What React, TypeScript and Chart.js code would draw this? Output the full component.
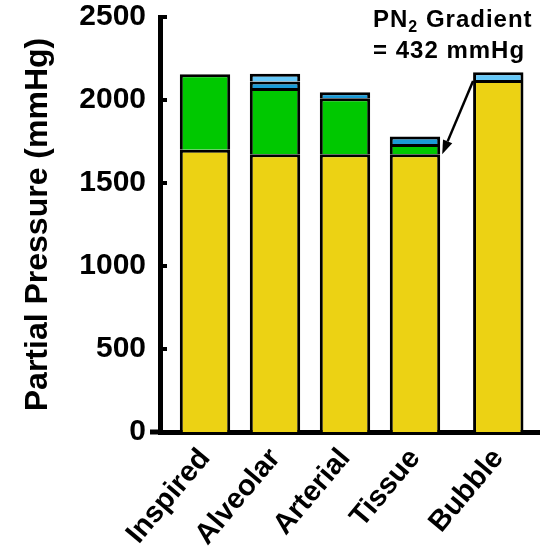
import React, { useEffect, useRef } from 'react';
import { Chart, registerables } from 'chart.js';

Chart.register(...registerables);

const categories = ['Inspired', 'Alveolar', 'Arterial', 'Tissue', 'Bubble'];
const nitrogen = [1700, 1673, 1673, 1673, 2120];
const oxygen = [455, 400, 337, 62, null];
const carbonDioxide = [null, 38, 36, 45, null];
const waterVapor = [null, 47, null, null, 47];
const yTickValues = [0, 500, 1000, 1500, 2000, 2500];
const yTitle = 'Partial Pressure (mmHg)';
const noteMain = 'PN';
const noteSub = '2';
const noteRest = ' Gradient';
const noteLine2 = '= 432 mmHg';

const FONT = '"Liberation Sans", Arial, Helvetica, sans-serif';
const COLORS = { n2: '#ECD214', o2: '#00C800', co2: '#1A9BD7', h2o: '#66C8F8' };

// horizontal slot of each column (the last column stands slightly apart)
const slotOf = (i: number) => i + (i === categories.length - 1 ? 0.19 : 0);
const toPoints = (arr: (number | null)[]) => arr.map((v, i) => ({ x: slotOf(i), y: v }));

const overlayPlugin = {
  id: 'overlay',
  afterDraw(chart: any) {
    const ctx: CanvasRenderingContext2D = chart.ctx;
    const { chartArea } = chart;
    const ys = chart.scales.y;
    ctx.save();
    ctx.fillStyle = '#000';
    ctx.strokeStyle = '#000';
    // inward tick marks
    yTickValues.forEach((v) => {
      const py = Math.round(ys.getPixelForValue(v));
      ctx.fillRect(chartArea.left - 2, py - 2, 9, 4);
    });
    // x axis line extends slightly left of the y axis
    ctx.fillRect(chartArea.left - 10, Math.round(chartArea.bottom) - 2.5, 12, 5);
    // arrow from bubble N2 top to tissue N2 top
    const meta = chart.getDatasetMeta(0);
    const from = meta.data[4];
    const to = meta.data[3];
    const sx = from.x - from.width / 2;
    const sy = from.y + 1;
    const ex = to.x + to.width / 2 + 2;
    const ey = to.y;
    const ang = Math.atan2(ey - sy, ex - sx);
    const headLen = 14;
    const headHalf = 5;
    const bx = ex - headLen * Math.cos(ang);
    const by = ey - headLen * Math.sin(ang);
    ctx.lineWidth = 2.5;
    ctx.beginPath();
    ctx.moveTo(sx, sy);
    ctx.lineTo(bx, by);
    ctx.stroke();
    ctx.beginPath();
    ctx.moveTo(ex, ey);
    ctx.lineTo(bx + headHalf * Math.sin(ang), by - headHalf * Math.cos(ang));
    ctx.lineTo(bx - headHalf * Math.sin(ang), by + headHalf * Math.cos(ang));
    ctx.closePath();
    ctx.fill();
    // annotation text
    const tx = chartArea.right - 167;
    const b1 = 27;
    const b2 = 58;
    (ctx as any).letterSpacing = '1px';
    ctx.textAlign = 'left';
    ctx.textBaseline = 'alphabetic';
    ctx.font = `bold 24px ${FONT}`;
    ctx.fillText(noteMain, tx, b1);
    let w = ctx.measureText(noteMain).width;
    ctx.font = `bold 16px ${FONT}`;
    ctx.fillText(noteSub, tx + w, b1 + 5);
    w += ctx.measureText(noteSub).width;
    ctx.font = `bold 24px ${FONT}`;
    ctx.fillText(noteRest, tx + w, b1);
    ctx.fillText(noteLine2, tx, b2);
    ctx.restore();
  },
};

export default function App() {
  const ref = useRef<HTMLCanvasElement | null>(null);
  useEffect(() => {
    document.body.style.margin = '0';
    const canvas = ref.current;
    if (!canvas) return;
    const seg = (label: string, data: (number | null)[], color: string) => ({
      label,
      data: toPoints(data),
      backgroundColor: color,
      borderColor: '#000',
      borderWidth: 3,
      borderSkipped: 'start',
      barPercentage: 0.72,
      categoryPercentage: 1,
    });
    const chart = new Chart(canvas, {
      type: 'bar',
      data: {
        datasets: [
          seg('N2', nitrogen, COLORS.n2),
          seg('O2', oxygen, COLORS.o2),
          seg('CO2', carbonDioxide, COLORS.co2),
          seg('H2O', waterVapor, COLORS.h2o),
        ] as any,
      },
      options: {
        responsive: false,
        animation: false,
        layout: { padding: { top: 17, right: 0, left: 0, bottom: 0 } },
        plugins: { legend: { display: false }, tooltip: { enabled: false } },
        scales: {
          x: {
            type: 'linear',
            stacked: true,
            offset: false,
            min: -0.643,
            max: 4.786,
            grid: { display: false, drawTicks: false, offset: false },
            border: { display: true, color: '#000', width: 5 },
            afterBuildTicks: (s: any) => {
              s.ticks = categories.map((_, i) => ({ value: slotOf(i) }));
            },
            afterFit: (s: any) => {
              s.height = 124;
              s.paddingLeft = 0;
              s.paddingRight = 0;
            },
            ticks: {
              autoSkip: false,
              minRotation: 50,
              maxRotation: 50,
              padding: 10,
              color: '#000',
              font: { family: FONT, size: 29, weight: 'bold' },
              callback: (_v: any, i: number) => categories[i],
            },
          },
          y: {
            stacked: true,
            min: 0,
            max: 2500,
            grid: { display: false, drawTicks: false },
            border: { display: true, color: '#000', width: 5 },
            afterBuildTicks: (s: any) => {
              s.ticks = yTickValues.map((v) => ({ value: v }));
            },
            afterFit: (s: any) => {
              s.width = 160;
              s.paddingTop = 0;
              s.paddingBottom = 0;
            },
            ticks: {
              padding: 14,
              color: '#000',
              font: { family: FONT, size: 30, weight: 'bold' },
              callback: (v: any) => String(v),
            },
            title: {
              display: true,
              text: yTitle,
              color: '#000',
              padding: { top: 19, bottom: 0 },
              font: { family: FONT, size: 32, weight: 'bold', lineHeight: 1.2 },
            },
          },
        },
      } as any,
      plugins: [overlayPlugin],
    });
    return () => chart.destroy();
  }, []);
  return (
    <div style={{ width: 540, height: 556, background: '#fff' }}>
      <canvas ref={ref} width={540} height={556} style={{ display: 'block' }} />
    </div>
  );
}
